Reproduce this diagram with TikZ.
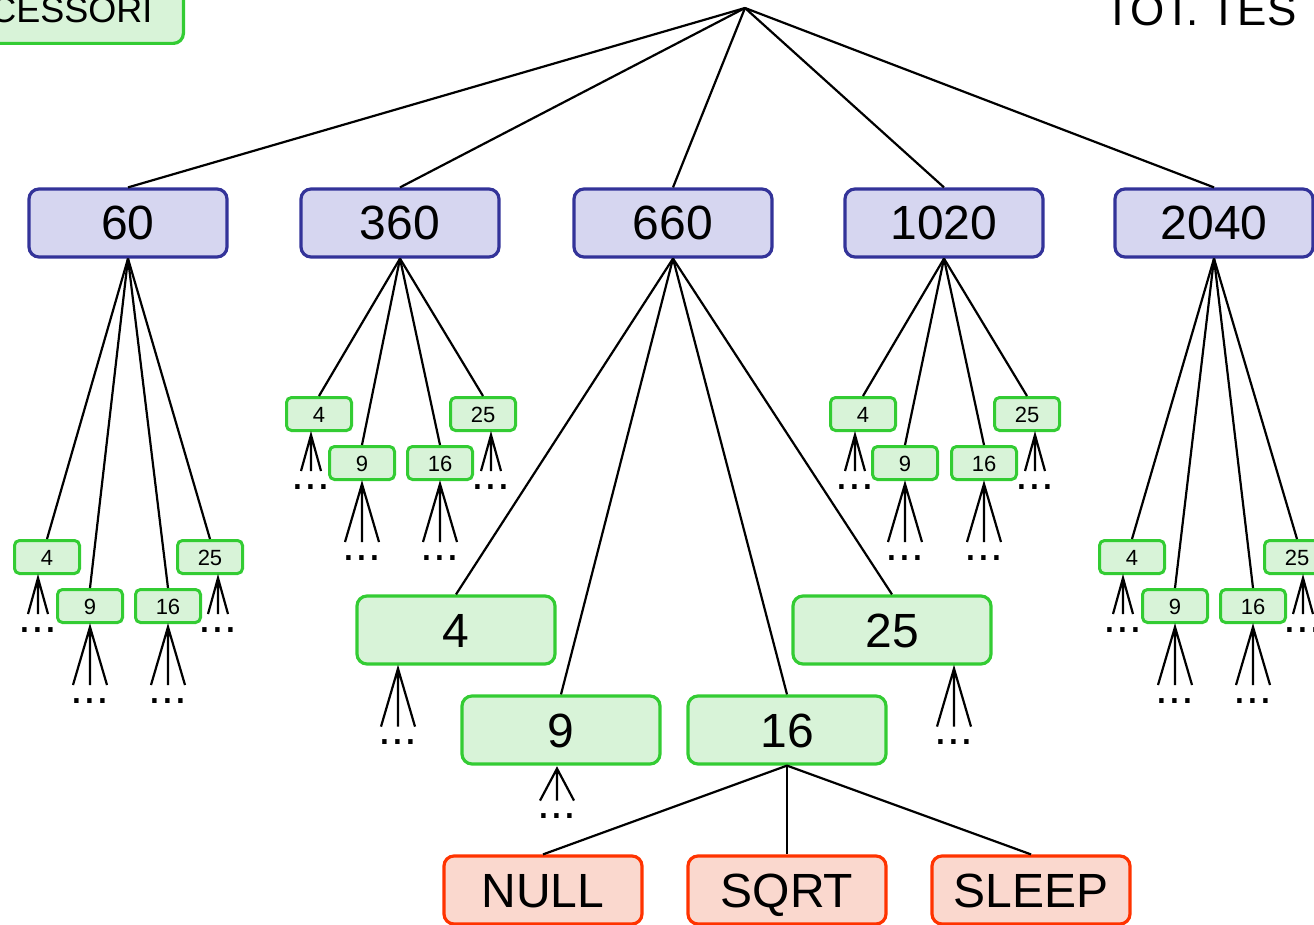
\documentclass[tikz,border=0pt]{standalone}
\usepackage{fontspec}
\setmainfont{Liberation Sans}
\definecolor{lvlborder}{RGB}{51,51,153}
\definecolor{lvlfill}{RGB}{214,214,240}
\definecolor{grnborder}{RGB}{51,204,51}
\definecolor{grnfill}{RGB}{216,243,216}
\definecolor{redborder}{RGB}{255,51,0}
\definecolor{redfill}{RGB}{250,216,206}

\begin{document}
\begin{tikzpicture}[x=1pt, y=-1pt, line width=2.2pt,
                    box/.style={rounded corners=10pt, line width=3.2pt, minimum width=198pt,
                                minimum height=68pt, inner sep=0pt, text height=34pt, text depth=0pt,
                                font=\fontsize{48}{50}\selectfont},
                    lvl/.style={box, draw=lvlborder, fill=lvlfill},
                    big/.style={box, draw=grnborder, fill=grnfill},
                    op/.style={box, draw=redborder, fill=redfill},
                    small/.style={rounded corners=5pt, line width=3pt, draw=grnborder, fill=grnfill,
                                  minimum width=65pt, minimum height=33pt, inner sep=0pt,
                                  text height=16pt, text depth=0pt, font=\fontsize{22}{24}\selectfont},
                    dots/.style={anchor=base, inner sep=0pt, font=\fontsize{46}{48}\selectfont}]
\useasboundingbox (0,0) rectangle (1314,925);

% top corners
\node[big, anchor=south east, inner xsep=31pt, text height=26pt,
      font=\fontsize{36}{38}\selectfont] (procs) at (185,45) {CESSORI};
\node[anchor=base west, inner sep=0pt, font=\fontsize{44}{46}\selectfont] (tot) at (1103,26) {TOT. TES};

\coordinate (root) at (745,8);

% first level
\node[lvl] (n60)   at (128,223)  {60};
\node[lvl] (n360)  at (400,223)  {360};
\node[lvl] (n660)  at (673,223)  {660};
\node[lvl] (n1020) at (944,223)  {1020};
\node[lvl] (n2040) at (1214,223) {2040};

% second level
\node[small] (n60-4)  at (47,557)  {4};
\node[small] (n60-9)  at (90,606)  {9};
\node[small] (n60-16) at (168,606) {16};
\node[small] (n60-25) at (210,557) {25};

\node[small] (n360-4)  at (319,414) {4};
\node[small] (n360-9)  at (362,463) {9};
\node[small] (n360-16) at (440,463) {16};
\node[small] (n360-25) at (483,414) {25};

\node[big] (n660-4)  at (456,630) {4};
\node[big] (n660-9)  at (561,730) {9};
\node[big] (n660-16) at (787,730) {16};
\node[big] (n660-25) at (892,630) {25};

\node[small] (n1020-4)  at (863,414)  {4};
\node[small] (n1020-9)  at (905,463)  {9};
\node[small] (n1020-16) at (984,463)  {16};
\node[small] (n1020-25) at (1027,414) {25};

\node[small] (n2040-4)  at (1132,557) {4};
\node[small] (n2040-9)  at (1175,606) {9};
\node[small] (n2040-16) at (1253,606) {16};
\node[small] (n2040-25) at (1297,557) {25};

% third level
\node[op] (null)  at (543,890)  {NULL};
\node[op] (sqrt)  at (787,890)  {SQRT};
\node[op] (sleep) at (1031,890) {SLEEP};

% edges
\foreach \n in {n60,n360,n660,n1020,n2040}
{
  \draw (root) -- (\n.north);
  \foreach \k in {4,9,16,25}
    \draw (\n.south) -- (\n-\k.north);
}
\foreach \n in {null,sqrt,sleep}
  \draw (n660-16.south) -- (\n.north);

% open fans
\foreach \b/\dx/\w/\h in {n60-4/-9/10/36, n60-9/0/17/58, n60-16/0/17/58, n60-25/8/10/36,
                          n360-4/-8/10/36, n360-9/0/17/58, n360-16/0/17/58, n360-25/8/10/36,
                          n1020-4/-8/10/36, n1020-9/0/17/58, n1020-16/0/17/58, n1020-25/8/10/36,
                          n2040-4/-9/10/36, n2040-9/0/17/58, n2040-16/0/17/58, n2040-25/6/10/36,
                          n660-4/-58/17/58, n660-9/-4/17/32, n660-25/62/17/58}
{
  \path ([xshift=\dx pt, yshift=-3pt]\b.south) coordinate (\b-o)
        ++(-\w,\h) coordinate (\b-l) ++(\w,0) coordinate (\b-m) ++(\w,0) coordinate (\b-r);
  \draw (\b-l) -- (\b-o) -- (\b-r) (\b-o) -- (\b-m);
  \node[dots] (\b-d) at ([yshift=-18pt]\b-m) {...};
}
\end{tikzpicture}
\end{document}
